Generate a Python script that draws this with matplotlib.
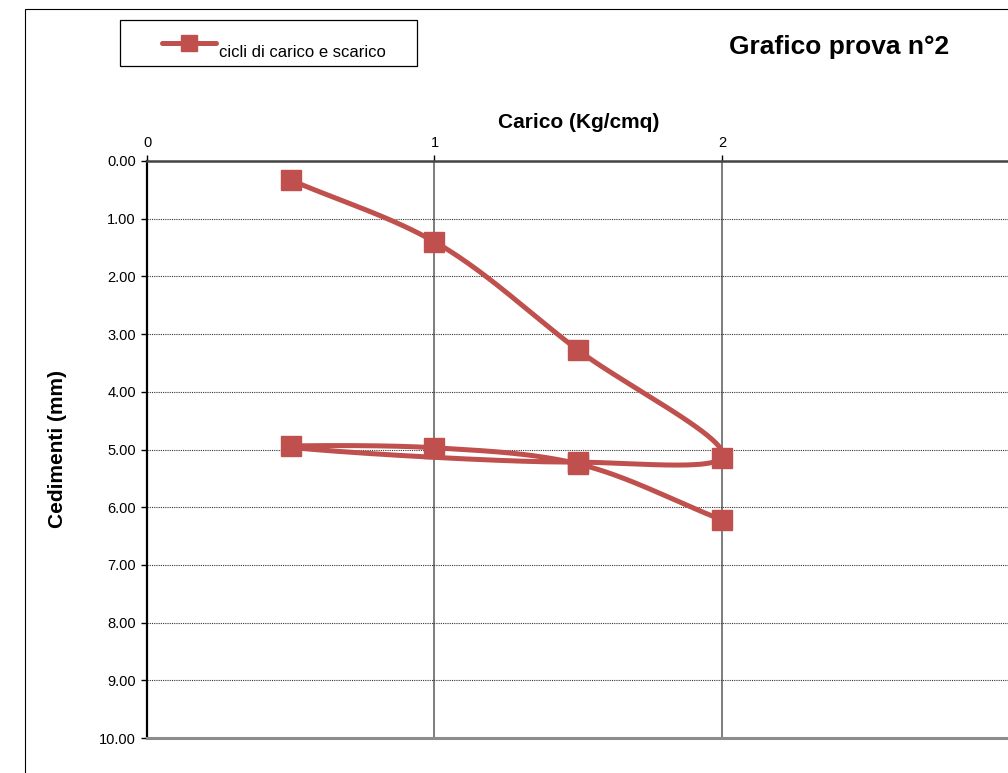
import numpy as np
import matplotlib
matplotlib.use('Agg')
import matplotlib.pyplot as plt
from matplotlib.patches import Rectangle
from matplotlib.lines import Line2D

plt.rcParams['font.family'] = ['Liberation Sans', 'DejaVu Sans']

# cicli di carico e scarico: carico (Kg/cmq) -> cedimento (mm)
carico = [0.5, 1.0, 1.5, 2.0, 1.5, 0.5, 1.0, 1.5, 2.0]
cedimenti = [0.33, 1.40, 3.28, 5.14, 5.22, 4.94, 4.97, 5.25, 6.22]
x_ticks = [0, 1, 2]
y_ticks = [0, 1, 2, 3, 4, 5, 6, 7, 8, 9, 10]

RED = '#C0504D'
W, H = 1008, 773


def smooth_curve(ax, xs, ys, n=80):
    # chordal catmull-rom done in screen space (close to Excel "smoothed line")
    pts = ax.transData.transform(np.column_stack([xs, ys]))
    k = len(pts)
    d = np.linalg.norm(np.diff(pts, axis=0), axis=1)
    tang = np.zeros_like(pts)
    for i in range(k):
        if i == 0:
            tang[i] = (pts[1] - pts[0]) / d[0]
        elif i == k - 1:
            tang[i] = (pts[-1] - pts[-2]) / d[-1]
        else:
            tang[i] = ((pts[i] - pts[i - 1]) / d[i - 1]
                       + (pts[i + 1] - pts[i]) / d[i]
                       - (pts[i + 1] - pts[i - 1]) / (d[i - 1] + d[i]))
    t = np.linspace(0, 1, n)[:, None]
    out = []
    for i in range(k - 1):
        p0, p3 = pts[i], pts[i + 1]
        p1 = p0 + tang[i] * d[i] / 3
        p2 = p3 - tang[i + 1] * d[i] / 3
        seg = (1 - t) ** 3 * p0 + 3 * (1 - t) ** 2 * t * p1 + 3 * (1 - t) * t ** 2 * p2 + t ** 3 * p3
        out.append(seg if i == 0 else seg[1:])
    out = np.vstack(out)
    return ax.transData.inverted().transform(out)


fig = plt.figure(figsize=(W / 100, H / 100), dpi=100)

# chart border and legend box (Excel style)
fig.patches.append(Rectangle((25 / W, -0.1), 2, 1.1 - 9.5 / H, transform=fig.transFigure,
                             fill=False, ec='black', lw=0.8))
fig.patches.append(Rectangle((120 / W, 1 - 66 / H), 297 / W, 46 / H, transform=fig.transFigure,
                             fill=False, ec='black', lw=0.9))
fig.lines.append(Line2D([162 / W, 216 / W], [1 - 43 / H] * 2, transform=fig.transFigure,
                        color=RED, lw=3.6, solid_capstyle='round'))
fig.lines.append(Line2D([189 / W], [1 - 43 / H], transform=fig.transFigure,
                        color=RED, marker='s', ms=11.5, lw=0))
fig.text(219 / W, 1 - 57 / H, 'cicli di carico e scarico', fontsize=12, va='baseline')
fig.text(729 / W, 1 - 47 / H, 'Grafico prova n°2', fontsize=19, fontweight='bold',
         va='center', ha='left')

ax = fig.add_axes([147 / W, 1 - 738 / H, 862.5 / W, 577 / H])
ax.set_xlim(0, 3)
ax.set_ylim(10, 0)
ax.xaxis.tick_top()
ax.xaxis.set_label_position('top')
ax.set_xticks(x_ticks)
ax.set_xticklabels([str(v) for v in x_ticks])
ax.set_yticks(y_ticks)
ax.set_yticklabels([f'{v:.2f}' for v in y_ticks])

ax.set_axisbelow(True)
ax.grid(axis='y', linestyle=(0, (1, 1)), color='#333333', lw=0.8)
ax.grid(axis='x', linestyle='-', color='#666666', lw=1.2)

ax.spines['right'].set_visible(False)
ax.spines['left'].set_linewidth(1.6)
ax.spines['left'].set_color('black')
ax.spines['top'].set_linewidth(1.8)
ax.spines['top'].set_color('#444444')
ax.spines['bottom'].set_linewidth(2.2)
ax.spines['bottom'].set_color('#8c8c8c')

ax.tick_params(axis='y', direction='out', length=4, width=1, pad=4, labelsize=10.5)
ax.tick_params(axis='x', direction='out', length=4, width=1, pad=4, labelsize=10.5)

ax.set_xlabel('Carico (Kg/cmq)', fontsize=15, fontweight='bold', labelpad=6)
ax.set_ylabel('Cedimenti (mm)', fontsize=15, fontweight='bold')
ax.yaxis.set_label_coords(-0.093, 0.5)

curve = smooth_curve(ax, carico, cedimenti)
ax.plot(curve[:, 0], curve[:, 1], color=RED, lw=3.6, solid_capstyle='round', clip_on=False)
ax.plot(carico, cedimenti, 's', color=RED, ms=14, clip_on=False)

fig.savefig('out.png', dpi=100)
